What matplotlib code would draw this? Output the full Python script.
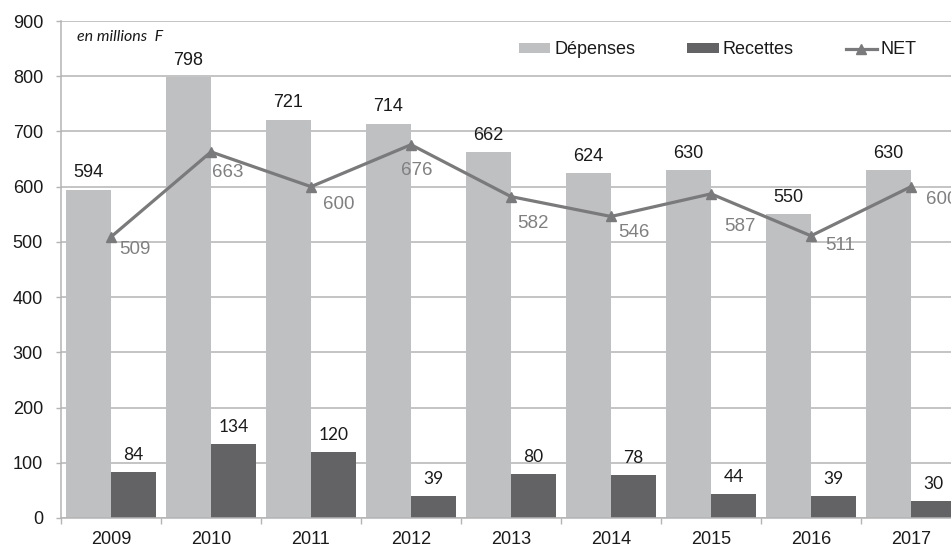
import matplotlib
matplotlib.use("Agg")
import matplotlib.pyplot as plt
import numpy as np
from matplotlib.patches import Patch
from matplotlib.lines import Line2D

years = ["2009", "2010", "2011", "2012", "2013", "2014", "2015", "2016", "2017"]
depenses = [594, 798, 721, 714, 662, 624, 630, 550, 630]
recettes = [84, 134, 120, 39, 80, 78, 44, 39, 30]
net = [509, 663, 600, 676, 582, 546, 587, 511, 600]

# label offsets for NET values (pixels right, pixels down)
net_offsets = [(24, 13), (17, 21), (28, 18), (6, 26), (22, 27), (23, 16), (29, 33), (29, 10), (31, 13)]

C_DEP = "#bfc0c2"
C_REC = "#636366"
C_NET = "#7a7a7c"
C_GRID = "#b4b4b4"
C_TXT = "#1a1a1a"
PX = 0.72  # points per pixel at dpi 100

fig = plt.figure(figsize=(9.51, 5.48), dpi=100)
ax = fig.add_axes([61 / 951, 30 / 548, 900 / 951, 497 / 548])

x = np.arange(len(years))
w = 0.45
ax.bar(x - w / 2, depenses, width=w, color=C_DEP, zorder=2)
ax.bar(x + w / 2, recettes, width=w, color=C_REC, zorder=2)
ax.plot(x, net, color=C_NET, lw=2.3, marker="^", ms=7, zorder=4)

ax.set_xlim(-0.5, len(years) - 0.5)
ax.set_ylim(0, 900)
ax.set_yticks(np.arange(0, 901, 100))
ax.yaxis.grid(True, color=C_GRID, lw=1.1, zorder=0)
ax.set_axisbelow(True)

ax.set_xticks(x)
ax.set_xticklabels(years)
ax.set_xticks(np.arange(-0.5, len(years), 1), minor=True)
ax.tick_params(axis="x", which="major", length=0, pad=13 * PX, labelsize=13, labelcolor=C_TXT)
ax.tick_params(axis="x", which="minor", length=6 * PX, color=C_GRID, width=1)
ax.tick_params(axis="y", length=5 * PX, color=C_GRID, width=1, pad=13 * PX, labelsize=13, labelcolor=C_TXT)
for lab in ax.get_xticklabels() + ax.get_yticklabels():
    lab.set_fontfamily("Liberation Sans")

for s in ["top", "right"]:
    ax.spines[s].set_visible(False)
for s in ["left", "bottom"]:
    ax.spines[s].set_color(C_GRID)
    ax.spines[s].set_linewidth(1.1)

for i in range(len(years)):
    ax.annotate(str(depenses[i]), (x[i] - w / 2, depenses[i]), xytext=(0, 17 * PX),
                textcoords="offset points", ha="center", va="center",
                fontsize=13, family="Liberation Sans", color=C_TXT, zorder=5)
    ax.annotate(str(recettes[i]), (x[i] + w / 2, recettes[i]), xytext=(0, 17 * PX),
                textcoords="offset points", ha="center", va="center",
                fontsize=12.5, family="Lato", color=C_TXT, zorder=5)
    dx, dy = net_offsets[i]
    ax.annotate(str(net[i]), (x[i], net[i]), xytext=(dx * PX, -dy * PX),
                textcoords="offset points", ha="center", va="center",
                fontsize=13.5, family="Liberation Sans", color="#808082", zorder=5)

ax.text(0.018, 0.968, "en millions  F", transform=ax.transAxes, ha="left", va="center",
        fontsize=11.5, family="Lato", style="italic", color=C_TXT)

handles = [Patch(facecolor=C_DEP, edgecolor="none", label="Dépenses"),
           Patch(facecolor=C_REC, edgecolor="none", label="Recettes"),
           Line2D([0], [0], color=C_NET, lw=2.3, marker="^", ms=7, label="NET")]
leg = ax.legend(handles=handles, ncol=3, loc="center left", bbox_to_anchor=(0.509, 0.942),
                frameon=False, borderaxespad=0, borderpad=0, handlelength=1.72,
                handleheight=0.45, handletextpad=0.22, columnspacing=2.9,
                prop={"family": "Liberation Sans", "size": 13})
for t in leg.get_texts():
    t.set_color(C_TXT)

fig.savefig("out.png", dpi=100)
